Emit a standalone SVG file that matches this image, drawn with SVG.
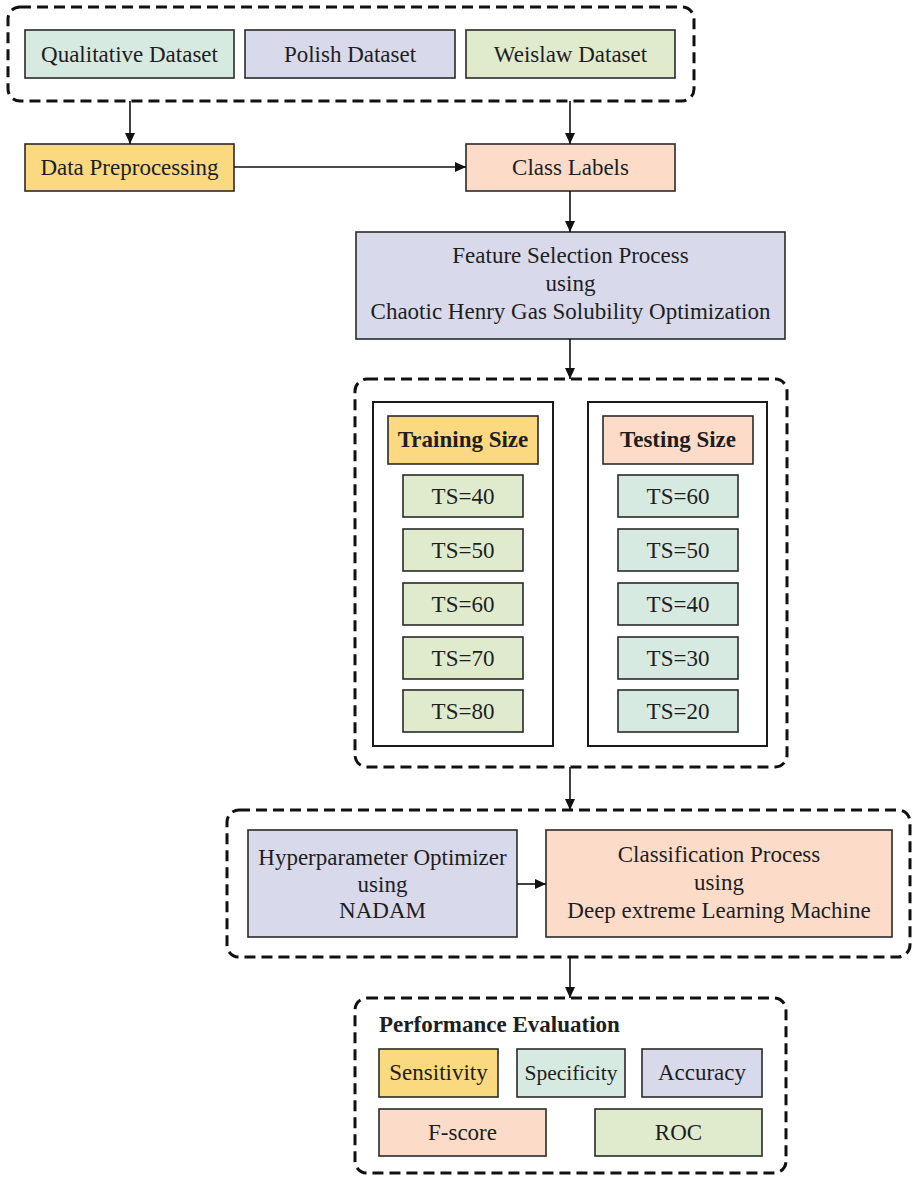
<svg xmlns="http://www.w3.org/2000/svg" width="912" height="1177" viewBox="0 0 912 1177">
<defs>
<marker id="ah" viewBox="0 0 11 10" refX="11" refY="5" markerWidth="11" markerHeight="10" markerUnits="userSpaceOnUse" orient="auto">
<path d="M0,0 L11,5 L0,10 z" fill="#111"/>
</marker>
<style>
.bx{stroke:#2a2a2a;stroke-width:1.6}
.grp{fill:none;stroke:#111;stroke-width:3;stroke-dasharray:11 6}
.frm{fill:#fff;stroke:#1a1a1a;stroke-width:2}
.t{font-family:"Liberation Serif","Times New Roman",serif;font-size:23px;fill:#1e1e1e;text-anchor:middle}
.b{font-weight:bold}
.teal{fill:#d7eae2}
.lav{fill:#d8d9eb}
.grn{fill:#e0ebce}
.yel{fill:#fad981}
.pch{fill:#fcdcc9}
.cn{stroke:#111;stroke-width:1.6;fill:none;marker-end:url(#ah)}
</style>
</defs>
<rect width="912" height="1177" fill="#fff"/>

<g id="datasets-group">
<rect class="grp" x="8" y="7" width="686" height="94" rx="12"/>
</g>
<g id="qualitative"><rect class="bx teal" x="25" y="30" width="209" height="48"/><text class="t" x="129.5" y="62">Qualitative Dataset</text></g>
<g id="polish"><rect class="bx lav" x="245" y="30" width="210" height="48"/><text class="t" x="350" y="62">Polish Dataset</text></g>
<g id="weislaw"><rect class="bx grn" x="466" y="30" width="209" height="48"/><text class="t" x="570.5" y="62">Weislaw Dataset</text></g>

<g id="preprocessing"><rect class="bx yel" x="25" y="144" width="209" height="47"/><text class="t" x="129.5" y="175">Data Preprocessing</text></g>
<g id="class-labels"><rect class="bx pch" x="466" y="144" width="209" height="47"/><text class="t" x="570.5" y="175">Class Labels</text></g>

<g id="feature-selection"><rect class="bx lav" x="356" y="232" width="429" height="107"/>
<text class="t" x="570.5" y="263">Feature Selection Process</text>
<text class="t" x="570.5" y="291">using</text>
<text class="t" x="570.5" y="319">Chaotic Henry Gas Solubility Optimization</text></g>

<g id="split-group">
<rect class="grp" x="355" y="379" width="432" height="388" rx="12"/>
</g>
<g id="training">
<rect class="frm" x="373" y="402" width="180" height="344"/>
<rect class="bx yel" x="388" y="416" width="150" height="48"/><text class="t b" x="463" y="447">Training Size</text>
<rect class="bx grn" x="403" y="475" width="120" height="42"/><text class="t" x="463" y="504">TS=40</text>
<rect class="bx grn" x="403" y="529" width="120" height="42"/><text class="t" x="463" y="558">TS=50</text>
<rect class="bx grn" x="403" y="583" width="120" height="42"/><text class="t" x="463" y="612">TS=60</text>
<rect class="bx grn" x="403" y="637" width="120" height="42"/><text class="t" x="463" y="666">TS=70</text>
<rect class="bx grn" x="403" y="690" width="120" height="42"/><text class="t" x="463" y="719">TS=80</text>
</g>
<g id="testing">
<rect class="frm" x="588" y="402" width="179" height="344"/>
<rect class="bx pch" x="603" y="416" width="150" height="48"/><text class="t b" x="678" y="447">Testing Size</text>
<rect class="bx teal" x="618" y="475" width="120" height="42"/><text class="t" x="678" y="504">TS=60</text>
<rect class="bx teal" x="618" y="529" width="120" height="42"/><text class="t" x="678" y="558">TS=50</text>
<rect class="bx teal" x="618" y="583" width="120" height="42"/><text class="t" x="678" y="612">TS=40</text>
<rect class="bx teal" x="618" y="637" width="120" height="42"/><text class="t" x="678" y="666">TS=30</text>
<rect class="bx teal" x="618" y="690" width="120" height="42"/><text class="t" x="678" y="719">TS=20</text>
</g>

<g id="model-group">
<rect class="grp" x="227" y="810" width="683" height="147" rx="12"/>
</g>
<g id="hyperparameter"><rect class="bx lav" x="248" y="830" width="269" height="107"/>
<text class="t" x="382.5" y="865">Hyperparameter Optimizer</text>
<text class="t" x="382.5" y="892">using</text>
<text class="t" x="382.5" y="918">NADAM</text></g>
<g id="classification"><rect class="bx pch" x="546" y="830" width="346" height="107"/>
<text class="t" x="719" y="862">Classification Process</text>
<text class="t" x="719" y="890">using</text>
<text class="t" x="719" y="918">Deep extreme Learning Machine</text></g>

<g id="performance">
<rect class="grp" x="355" y="998" width="431" height="175" rx="12"/>
<text class="t b" x="379" y="1032" style="text-anchor:start">Performance Evaluation</text>
</g>
<g id="sensitivity"><rect class="bx yel" x="379" y="1049" width="119" height="48"/><text class="t" x="438.5" y="1080">Sensitivity</text></g>
<g id="specificity"><rect class="bx teal" x="517" y="1049" width="108" height="48"/><text class="t" x="571" y="1080" style="font-size:21.5px">Specificity</text></g>
<g id="accuracy"><rect class="bx lav" x="642" y="1049" width="120" height="48"/><text class="t" x="702" y="1080">Accuracy</text></g>
<g id="fscore"><rect class="bx pch" x="379" y="1109" width="167" height="47"/><text class="t" x="462.5" y="1140">F-score</text></g>
<g id="roc"><rect class="bx grn" x="595" y="1109" width="167" height="47"/><text class="t" x="678.5" y="1140">ROC</text></g>

<g id="connectors">
<line class="cn" x1="130" y1="101" x2="130" y2="144"/>
<line class="cn" x1="570" y1="101" x2="570" y2="144"/>
<line class="cn" x1="234" y1="167" x2="466" y2="167"/>
<line class="cn" x1="570" y1="191" x2="570" y2="232"/>
<line class="cn" x1="570" y1="339" x2="570" y2="379"/>
<line class="cn" x1="570" y1="767" x2="570" y2="810"/>
<line class="cn" x1="517" y1="884" x2="546" y2="884"/>
<line class="cn" x1="570" y1="957" x2="570" y2="998"/>
</g>
</svg>
